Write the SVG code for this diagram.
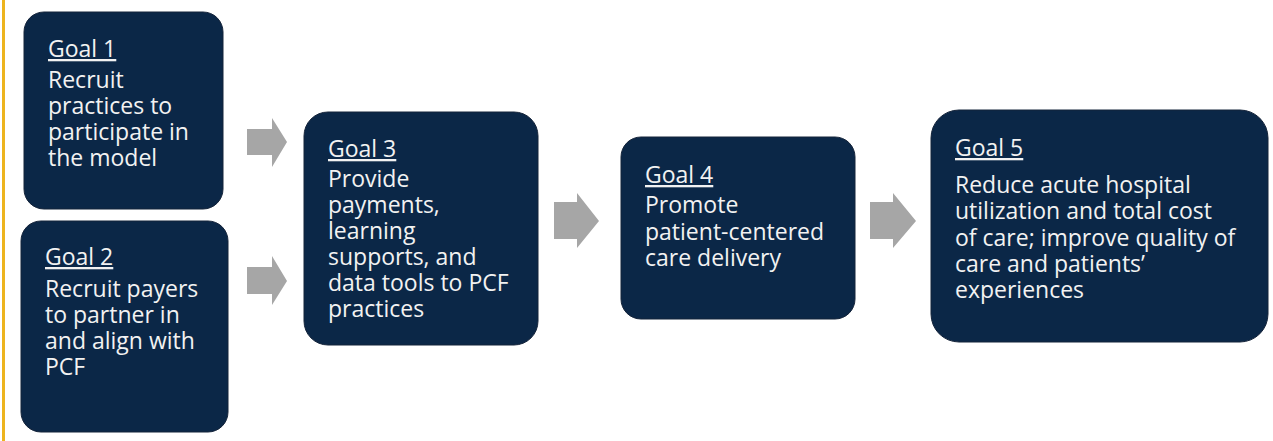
<svg xmlns="http://www.w3.org/2000/svg" width="1273" height="441" viewBox="0 0 1273 441">
  <style>
    .box { fill: #0B2747; stroke: #15243A; stroke-width: 1; }
    .txt { font-family: "Open Sans", "Noto Sans", sans-serif; font-size: 23px; fill: #F2F2F2; }
    .goal { text-decoration: underline; }
    .arrow { fill: #A6A6A6; }
  </style>
  <rect width="1273" height="441" fill="#FFFFFF"/>
  <!-- accent bar on the left edge -->
  <rect x="2" y="0" width="3" height="441" fill="#EDB41E"/>

  <g id="goal1">
    <rect class="box" x="24" y="12" width="199" height="197" rx="20"/>
    <text class="txt" x="48" y="57"><tspan class="goal">Goal 1</tspan></text>
    <text class="txt" x="48" y="88">Recruit<tspan x="48" dy="26">practices to</tspan><tspan x="48" dy="26">participate in</tspan><tspan x="48" dy="26">the model</tspan></text>
  </g>

  <g id="goal2">
    <rect class="box" x="21" y="221" width="207" height="211" rx="20"/>
    <text class="txt" x="45" y="265"><tspan class="goal">Goal 2</tspan></text>
    <text class="txt" x="45" y="297">Recruit payers<tspan x="45" dy="26">to partner in</tspan><tspan x="45" dy="26">and align with</tspan><tspan x="45" dy="26">PCF</tspan></text>
  </g>

  <g id="goal3">
    <rect class="box" x="304" y="112" width="234" height="233" rx="24"/>
    <text class="txt" x="328" y="157"><tspan class="goal">Goal 3</tspan></text>
    <text class="txt" x="328" y="187">Provide<tspan x="328" dy="26">payments,</tspan><tspan x="328" dy="26">learning</tspan><tspan x="328" dy="26">supports, and</tspan><tspan x="328" dy="26">data tools to PCF</tspan><tspan x="328" dy="26">practices</tspan></text>
  </g>

  <g id="goal4">
    <rect class="box" x="621" y="137" width="234" height="182" rx="20"/>
    <text class="txt" x="645" y="183"><tspan class="goal">Goal 4</tspan></text>
    <text class="txt" x="645" y="213">Promote<tspan x="645" dy="26.5">patient-centered</tspan><tspan x="645" dy="26.5">care delivery</tspan></text>
  </g>

  <g id="goal5">
    <rect class="box" x="931" y="110" width="337" height="232" rx="28"/>
    <text class="txt" x="955" y="156"><tspan class="goal">Goal 5</tspan></text>
    <text class="txt" x="955" y="193">Reduce acute hospital<tspan x="955" dy="26.3">utilization and total cost</tspan><tspan x="955" dy="26.3">of care; improve quality of</tspan><tspan x="955" dy="26.3">care and patients’</tspan><tspan x="955" dy="26.3">experiences</tspan></text>
  </g>

  <g id="connectors">
    <polygon class="arrow" points="247,129 272,129 272,118 287,142 272,167 272,155 247,155"/>
    <polygon class="arrow" points="247,267 272,267 272,256 287,281 272,305 272,294 247,294"/>
    <polygon class="arrow" points="554,202 577,202 577,193 599,221 577,248 577,239 554,239"/>
    <polygon class="arrow" points="870,202 893,202 893,193 916,221 893,248 893,239 870,239"/>
  </g>
</svg>
